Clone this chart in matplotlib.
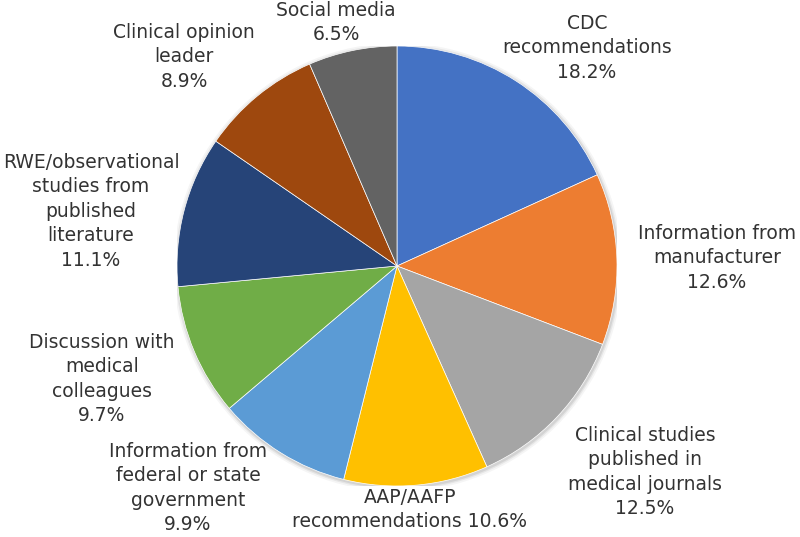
import matplotlib.pyplot as plt
from matplotlib.patches import Circle

labels = ['CDC\nrecommendations', 'Information from\nmanufacturer',
          'Clinical studies\npublished in\nmedical journals',
          'AAP/AAFP\nrecommendations', 'Information from\nfederal or state\ngovernment',
          'Discussion with\nmedical\ncolleagues',
          'RWE/observational\nstudies from\npublished\nliterature',
          'Clinical opinion\nleader', 'Social media']
shares = [18.2, 12.6, 12.5, 10.6, 9.9, 9.7, 11.1, 8.9, 6.5]
colors = ['#4472C4', '#ED7D31', '#A5A5A5', '#FFC000', '#5B9BD5',
          '#70AD47', '#264478', '#9E480E', '#636363']

# label centres in pixels (x, centre of first line)
label_pos = [(587, 23), (717, 233), (645, 435), (410, 497), (188, 451),
             (102, 342), (91, 162), (184, 32), (336, 10)]
# percent on same line for the AAP label
inline_pct = [False, False, False, True, False, False, False, False, False]

W, H = 800, 537
fig = plt.figure(figsize=(W / 100, H / 100), dpi=100)
cx, cy, r = 397, 266, 220
ax = fig.add_axes([(cx - r) / W, (H - cy - r) / H, 2 * r / W, 2 * r / H])
# soft shadow round the pie
for k, a in [(1.02, 0.04), (1.012, 0.06), (1.006, 0.08)]:
    ax.add_patch(Circle((0.004, -0.006), k, color='black', alpha=a, lw=0))
ax.pie(shares, colors=colors, startangle=90, counterclock=False,
       wedgeprops=dict(linewidth=0.5, edgecolor='white'))
ax.set_xlim(-1, 1)
ax.set_ylim(-1, 1)
ax.set_aspect('equal')
ax.axis('off')

for lab, val, (px, py), inl in zip(labels, shares, label_pos, inline_pct):
    txt = f'{lab} {val:.1f}%' if inl else f'{lab}\n{val:.1f}%'
    fig.text(px / W, 1 - (py - 9) / H, txt, ha='center', va='top',
             fontsize=13.5, color='#333333', linespacing=1.36,
             family='DejaVu Sans')

fig.savefig('out.png', dpi=100)
